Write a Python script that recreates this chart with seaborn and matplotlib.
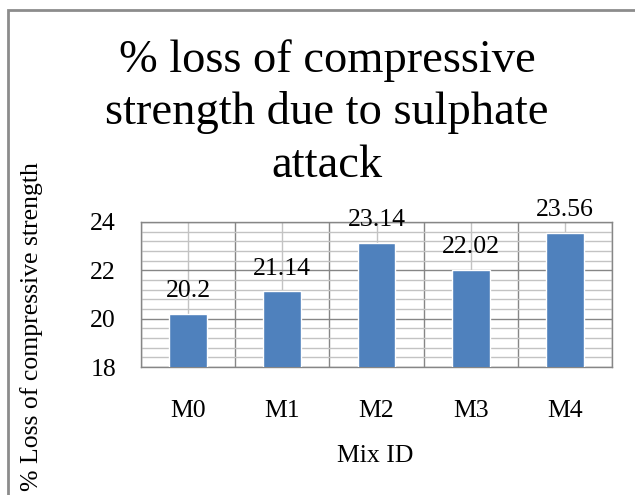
import matplotlib
matplotlib.use("Agg")
import matplotlib.pyplot as plt
import matplotlib.patches as mpatches
import numpy as np
import pandas as pd
import seaborn as sns

# Loss of compressive strength after sulphate exposure, per mix
mix_ids = ["M0", "M1", "M2", "M3", "M4"]
loss_pct = [20.2, 21.14, 23.14, 22.02, 23.56]
y_ticks = [18, 20, 22, 24]
title_lines = ["% loss of compressive", "strength due to sulphate", "attack"]

sns.set_theme(style="white")
plt.rcParams["font.family"] = ["Liberation Serif", "DejaVu Serif"]
plt.rcParams["text.color"] = "black"

df = pd.DataFrame({"Mix ID": mix_ids, "Loss": loss_pct})

W, H = 635, 495
fig = plt.figure(figsize=(W / 100, H / 100), dpi=100)
ax = fig.add_axes([141 / W, 1 - 367 / H, (612 - 141) / W, (367 - 222) / H])

bar_color = "#4F81BD"
sns.barplot(data=df, x="Mix ID", y="Loss", color=bar_color, width=0.4,
            saturation=1, ax=ax, zorder=3)

major_c = "#868686"
minor_c = "#c3c3c3"
fs = 18.5

ax.set_xlim(-0.5, len(mix_ids) - 0.5)
ax.set_ylim(18, 24)
ax.set_yticks(y_ticks)
ax.set_yticks(np.arange(18, 24.01, 0.4), minor=True)
ax.set_yticklabels([str(t) for t in y_ticks])

# category centres carry labels, boundaries carry the tick marks
ax.set_xticks(range(len(mix_ids)))
ax.set_xticklabels(mix_ids)
ax.set_xticks(np.arange(-0.5, len(mix_ids), 1.0), minor=True)

ax.grid(which="major", axis="y", color=major_c, lw=1.0, zorder=0)
ax.grid(which="minor", axis="y", color=minor_c, lw=1.0, zorder=0)
ax.grid(which="minor", axis="x", color=major_c, lw=1.0, zorder=0)
ax.grid(which="major", axis="x", color=minor_c, lw=1.0, zorder=0)
ax.set_axisbelow(True)

ax.tick_params(axis="x", which="major", length=0, pad=24, labelsize=fs,
               labelcolor="black")
ax.tick_params(axis="x", which="minor", length=8, width=1, color=major_c,
               direction="out")
ax.tick_params(axis="y", which="major", length=7, width=1, color=major_c,
               direction="out", labelsize=fs, pad=11, labelcolor="black")
ax.tick_params(axis="y", which="minor", length=0)

for s in ax.spines.values():
    s.set_color(major_c)
    s.set_linewidth(1.0)

ax.set_xlabel("")
ax.set_ylabel("")

# value labels above each bar
for i, v in enumerate(loss_pct):
    ax.text(i, v + 0.47, f"{v:g}", ha="center", va="bottom", fontsize=fs,
            color="black")

fig.text(375 / W, 1 - 456 / H, "Mix ID", ha="center", va="center", fontsize=fs)
fig.text(32 / W, 1 - 327 / H, "% Loss of compressive strength", ha="center",
         va="center", rotation=90, fontsize=fs)

# three-line chart title
for line, base_px in zip(title_lines, [72, 124.5, 177]):
    fig.text(327 / W, 1 - base_px / H, line, ha="center", va="baseline",
             fontsize=33.5)

# chart frame
frame = mpatches.Rectangle((8 / W, -0.2), 1.2, 1.2 - 10 / H,
                           transform=fig.transFigure, fill=False,
                           edgecolor="#8c8c8c", lw=2)
fig.patches.append(frame)

fig.savefig("out.png", dpi=100)
